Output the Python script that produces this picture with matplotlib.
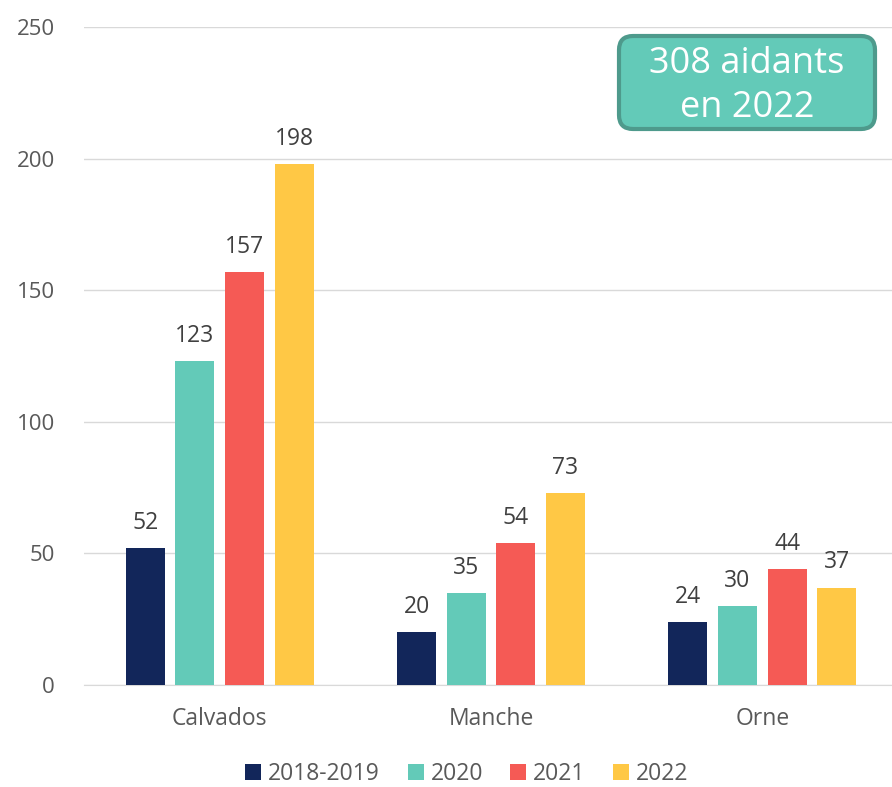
import numpy as np
import matplotlib.pyplot as plt
from matplotlib.patches import FancyBboxPatch
from matplotlib.transforms import IdentityTransform

plt.rcParams['font.family'] = ['Open Sans', 'DejaVu Sans']

departements = ['Calvados', 'Manche', 'Orne']
periodes = ['2018-2019', '2020', '2021', '2022']
valeurs = {
    '2018-2019': [52, 20, 24],
    '2020': [123, 35, 30],
    '2021': [157, 54, 44],
    '2022': [198, 73, 37],
}
couleurs = ['#12265A', '#63CAB8', '#F55A55', '#FFC845']
total_2022 = 308

fig = plt.figure(figsize=(8.92, 7.87), dpi=100)
ax = fig.add_axes([84 / 892, 1 - 685 / 787, 814 / 892, 658 / 787])

x = np.arange(len(departements))
largeur = 0.144
pas = 0.183
for i, (p, c) in enumerate(zip(periodes, couleurs)):
    pos = x + (i - 1.5) * pas
    bars = ax.bar(pos, valeurs[p], width=largeur, color=c, label=p, zorder=3)
    for b, v in zip(bars, valeurs[p]):
        ax.text(b.get_x() + b.get_width() / 2, v + 5, str(v), ha='center', va='bottom',
                fontsize=16.5, color='#404040')

ax.set_xlim(-0.5, 2.5)
ax.set_ylim(0, 250)
ax.set_yticks(range(0, 251, 50))
ax.set_xticks(x)
ax.set_xticklabels(departements)
ax.yaxis.grid(True, color='#D9D9D9', lw=1, zorder=0)
for s in ['top', 'right', 'left']:
    ax.spines[s].set_visible(False)
ax.spines['bottom'].set_color('#D9D9D9')
ax.tick_params(length=0, labelsize=16, colors='#595959')
ax.tick_params(axis='x', pad=16, labelsize=16.5)
ax.tick_params(axis='y', pad=21)

fig.legend(loc='center', bbox_to_anchor=(467 / 892, 1 - 774 / 787), ncol=4, frameon=False,
           fontsize=16.5, labelcolor='#595959', handlelength=0.7, handleheight=0.7,
           handletextpad=0.3, columnspacing=1.2)

# encadré avec le total
boite = FancyBboxPatch((619, 787 - 129), 256, 93, boxstyle='round,pad=0,rounding_size=14',
                       transform=IdentityTransform(), fc='#63CAB8', ec='#4E9A8C', lw=3)
fig.add_artist(boite)
fig.text(747 / 892, 1 - 86 / 787, f'{total_2022} aidants\nen 2022', ha='center', va='center',
         color='white', fontsize=26, linespacing=1.28)

fig.savefig('out.png', dpi=100)
